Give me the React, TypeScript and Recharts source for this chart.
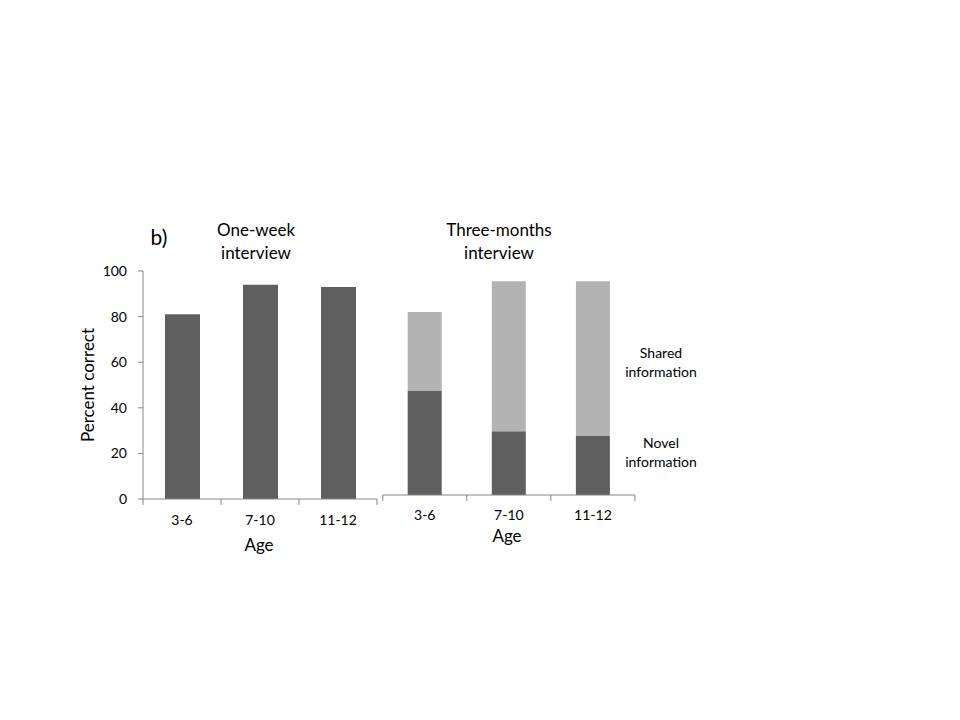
import { BarChart, Bar, XAxis, YAxis } from 'recharts'

const AGES = ['3-6', '7-10', '11-12']
const ONE_WEEK = [81, 94, 93]
const NOVEL = [46, 28, 26]
const SHARED = [34.5, 66, 68]
const Y_TICKS = [0, 20, 40, 60, 80, 100]

const DARK = '#5f5f5f'
const LIGHT = '#b3b3b3'
const AXIS = '#868686'
const FONT = 'Lato, "Open Sans", sans-serif'

const weekData = AGES.map((age, i) => ({ age, value: ONE_WEEK[i] }))
const monthData = AGES.map((age, i) => ({ age, novel: NOVEL[i], shared: SHARED[i] }))

// Excel-style category axis: ticks on the band edges, label in the middle
function makeTick(bandHalf: number, count: number, dy: number) {
  return (props: any) => {
    const { x, y, payload, index } = props
    const top = y - 6
    return (
      <g>
        {index === 0 && <line x1={x - bandHalf} x2={x - bandHalf} y1={top} y2={y} stroke={AXIS} />}
        <line x1={x + bandHalf} x2={x + bandHalf} y1={top} y2={y} stroke={AXIS} />
        <text x={x} y={y} dy={dy} textAnchor="middle" fontSize={14} fill="#000" fontFamily={FONT}>
          {payload.value}
        </text>
      </g>
    )
  }
}

function Label({ x, y, children, size = 14, rotate = false }: any) {
  return (
    <div
      style={{
        position: 'absolute',
        left: x,
        top: y,
        transform: `translate(-50%, -50%)${rotate ? ' rotate(-90deg)' : ''}`,
        fontFamily: FONT,
        fontSize: size,
        lineHeight: 1.35,
        textAlign: 'center',
        whiteSpace: 'nowrap',
        color: '#000',
      }}
    >
      {children}
    </div>
  )
}

export default function App() {
  return (
    <div style={{ position: 'absolute', left: 0, top: 0, width: 960, height: 720, background: '#fff' }}>
      <div style={{ position: 'absolute', left: 0, top: 200 }}>
        <BarChart width={400} height={380} data={weekData} margin={{ top: 71, right: 23, left: 93, bottom: 51 }}>
          <XAxis
            dataKey="age"
            height={30}
            stroke={AXIS}
            tickLine={false}
            tickSize={6}
            tickMargin={0}
            tick={makeTick(39, 3, 20)}
            interval={0}
          />
          <YAxis
            width={50}
            domain={[0, 100]}
            ticks={Y_TICKS}
            stroke={AXIS}
            tickSize={5}
            tickMargin={11}
            tick={{ fill: '#000', fontSize: 14, fontFamily: FONT }}
          />
          <Bar dataKey="value" fill={DARK} barSize={35} isAnimationActive={false} />
        </BarChart>
      </div>

      <div style={{ position: 'absolute', left: 370, top: 200 }}>
        <BarChart width={300} height={380} data={monthData} margin={{ top: 67.7, right: 35, left: 12.7, bottom: 55 }}>
          <XAxis
            dataKey="age"
            height={30}
            stroke={AXIS}
            tickLine={false}
            tickSize={6}
            tickMargin={0}
            tick={makeTick(42, 3, 19)}
            interval={0}
          />
          <YAxis hide domain={[0, 100]} />
          <Bar dataKey="novel" stackId="a" fill={DARK} barSize={34} isAnimationActive={false} />
          <Bar dataKey="shared" stackId="a" fill={LIGHT} barSize={34} isAnimationActive={false} />
        </BarChart>
      </div>

      <Label x={159} y={237} size={21}>b)</Label>
      <Label x={256} y={242} size={17}>One-week<br />interview</Label>
      <Label x={499} y={242} size={17}>Three-months<br />interview</Label>
      <Label x={88} y={385} size={17} rotate>Percent correct</Label>
      <Label x={259} y={545} size={17}>Age</Label>
      <Label x={507} y={536} size={17}>Age</Label>
      <Label x={661} y={363} size={14}>Shared<br />information</Label>
      <Label x={661} y={453} size={14}>Novel<br />information</Label>
    </div>
  )
}
